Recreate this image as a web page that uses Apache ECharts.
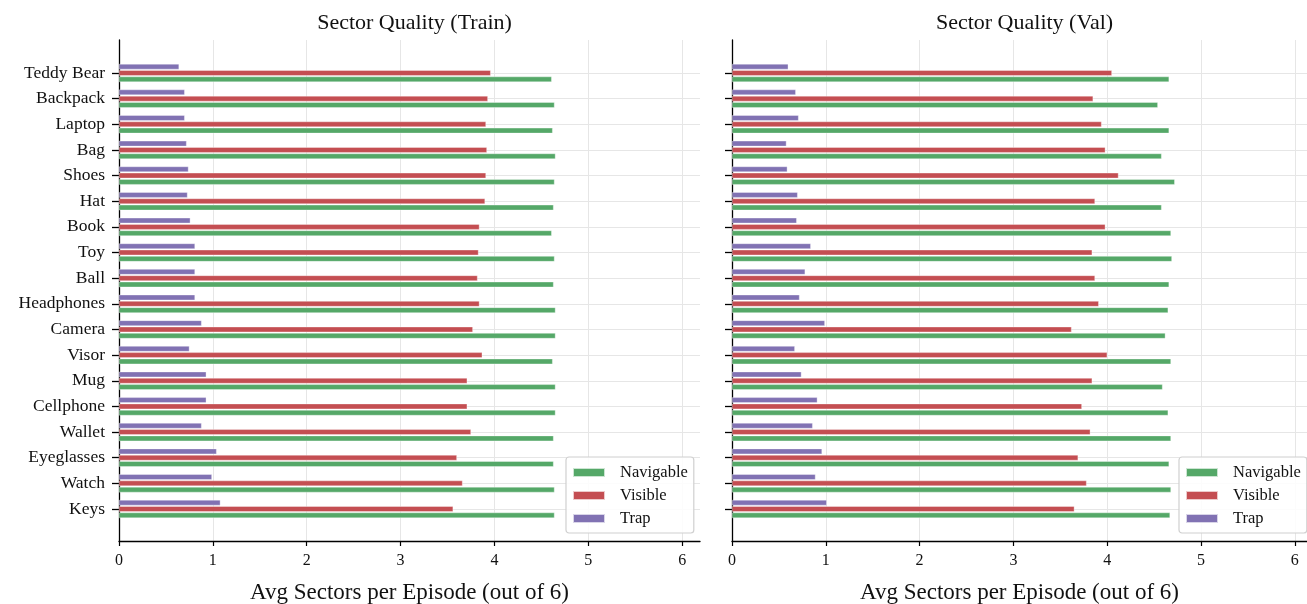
<!DOCTYPE html>
<html><head><meta charset="utf-8">
<script src="https://cdn.jsdelivr.net/npm/echarts@6/dist/echarts.min.js"></script>
<style>html,body{margin:0;padding:0;background:#fff}#c{width:1307px;height:604px}</style>
</head><body><div id="c"></div>
<script>
const categories = ['Teddy Bear','Backpack','Laptop','Bag','Shoes','Hat','Book','Toy','Ball','Headphones','Camera','Visor','Mug','Cellphone','Wallet','Eyeglasses','Watch','Keys'];
const trainNavigable = [4.61,4.64,4.62,4.65,4.64,4.63,4.61,4.64,4.63,4.65,4.65,4.62,4.65,4.65,4.63,4.63,4.64,4.64];
const trainVisible   = [3.96,3.93,3.91,3.92,3.91,3.90,3.84,3.83,3.82,3.84,3.77,3.87,3.71,3.71,3.75,3.60,3.66,3.56];
const trainTrap      = [0.64,0.70,0.70,0.72,0.74,0.73,0.76,0.81,0.81,0.81,0.88,0.75,0.93,0.93,0.88,1.04,0.99,1.08];
const valNavigable = [4.66,4.54,4.66,4.58,4.72,4.58,4.68,4.69,4.66,4.65,4.62,4.68,4.59,4.65,4.68,4.66,4.68,4.67];
const valVisible   = [4.05,3.85,3.94,3.98,4.12,3.87,3.98,3.84,3.87,3.91,3.62,4.00,3.84,3.73,3.82,3.69,3.78,3.65];
const valTrap      = [0.60,0.68,0.71,0.58,0.59,0.70,0.69,0.84,0.78,0.72,0.99,0.67,0.74,0.91,0.86,0.96,0.89,1.01];
const xTicks = [0,1,2,3,4,5,6];
const seriesNames = ['Navigable','Visible','Trap'];
const colors = {Navigable:'#55a868', Visible:'#c44e52', Trap:'#8172b3'};
const titles = ['Sector Quality (Train)','Sector Quality (Val)'];
const xName = 'Avg Sectors per Episode (out of 6)';

const FONT = "'Liberation Serif','DejaVu Serif',serif";
const panels = [
  {left:119, right:607, xmax:6.19, nav:trainNavigable, vis:trainVisible, trap:trainTrap, showLabels:true, legendLeft:566},
  {left:732, right:0, xmax:6.13, nav:valNavigable, vis:valVisible, trap:valTrap, showLabels:false, legendLeft:1179}
];
const grid=[], xAxis=[], yAxis=[], series=[], legend=[], title=[];
panels.forEach((p,i)=>{
  const gb = grid.length;
  grid.push({left:p.left, right:p.right, top:73, bottom:95, outerBoundsMode:'none', containLabel:false});
  grid.push({left:p.left, right:p.right, top:40, bottom:63, outerBoundsMode:'none', containLabel:false});
  xAxis.push({type:'value', gridIndex:gb, min:0, max:p.xmax, show:false});
  xAxis.push({type:'value', gridIndex:gb+1, min:0, max:p.xmax,
    axisLine:{show:true, lineStyle:{color:'#000', width:1.3}},
    axisTick:{show:true, length:5, customValues:xTicks, lineStyle:{color:'#000', width:1.2}},
    axisLabel:{show:true, customValues:xTicks, color:'#111', fontSize:16, fontFamily:FONT, margin:12},
    splitLine:{show:true, lineStyle:{color:'#e6e6e6', width:1}},
    name:xName, nameLocation:'middle', nameGap:40, nameTextStyle:{fontSize:23, fontFamily:FONT, color:'#111'}
  });
  yAxis.push({type:'category', gridIndex:gb, data:categories, inverse:true, boundaryGap:false,
    axisLine:{show:false},
    axisTick:{show:true, length:7, lineStyle:{color:'#000', width:1.3}},
    axisLabel:{show:p.showLabels, color:'#111', fontSize:17.5, fontFamily:FONT, margin:14},
    splitLine:{show:true, lineStyle:{color:'#e6e6e6', width:1}}
  });
  yAxis.push({type:'value', gridIndex:gb+1, min:0, max:1,
    axisLine:{show:true, onZero:false, lineStyle:{color:'#000', width:1.3}},
    axisTick:{show:false}, axisLabel:{show:false}, splitLine:{show:false}});
  const dataMap = {Trap:p.trap, Visible:p.vis, Navigable:p.nav};
  ['Trap','Visible','Navigable'].forEach(n=>{
    series.push({type:'bar', name:n, xAxisIndex:gb, yAxisIndex:gb, data:dataMap[n],
      barWidth:5.5, barGap:'15%',
      itemStyle:{color:colors[n], borderColor:'rgba(255,255,255,0.7)', borderWidth:0.5},
      emphasis:{disabled:true}, silent:true});
  });
  legend.push({data:seriesNames, orient:'vertical', left:p.legendLeft, top:457,
    itemWidth:32, itemHeight:9, itemGap:6, icon:'rect',
    borderColor:'#d0d0d0', borderWidth:1.2, borderRadius:3, padding:[7,6,6,6],
    backgroundColor:'rgba(255,255,255,0.85)',
    textStyle:{fontSize:16.5, fontFamily:FONT, color:'#111', padding:[0,0,0,10]}});
  title.push({text:titles[i], left:(p.left + (1307 - p.right))/2, top:7, textAlign:'center',
    textStyle:{fontSize:22, fontWeight:'normal', fontFamily:FONT, color:'#111'}});
});
const chart = echarts.init(document.getElementById('c'), null, {renderer:'canvas'});
chart.setOption({animation:false, title, grid, xAxis, yAxis, series, legend});
</script></body></html>
